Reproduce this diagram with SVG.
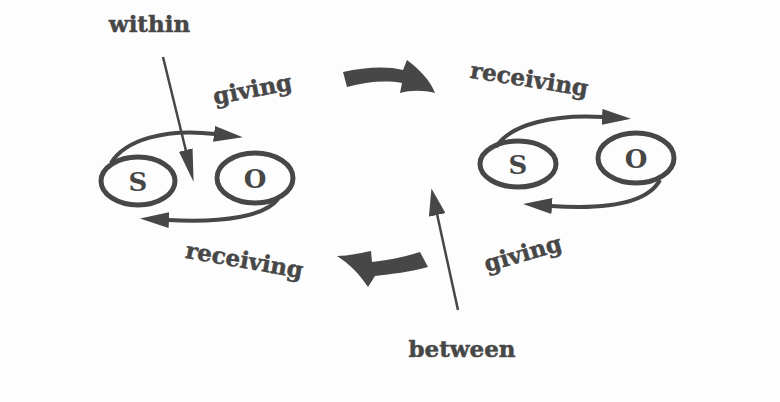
<svg xmlns="http://www.w3.org/2000/svg" width="780" height="402" viewBox="0 0 780 402">
<style>
.ell{fill:none;stroke:#474747;stroke-width:5;}
.arc{fill:none;stroke:#474747;stroke-width:4;}
.thin{fill:none;stroke:#474747;stroke-width:2.5;}
.big{fill:#474747;stroke:none;}
.lbl{font-family:"DejaVu Serif","Liberation Serif",serif;font-weight:bold;font-size:23px;fill:#474747;stroke:#474747;stroke-width:0.5;text-anchor:middle;}
.let{font-family:"DejaVu Serif","Liberation Serif",serif;font-weight:bold;font-size:26px;fill:#474747;text-anchor:middle;dominant-baseline:central;}
</style>
<defs>
<marker id="ah" markerUnits="userSpaceOnUse" viewBox="0 0 30 16" markerWidth="30" markerHeight="16" refX="1" refY="8" orient="auto"><path d="M0,0 L29,8 L0,16 Z" fill="#474747"/></marker>
<marker id="ahw" markerUnits="userSpaceOnUse" viewBox="0 0 34 14" markerWidth="34" markerHeight="14" refX="1" refY="7" orient="auto"><path d="M0,0 L33,7 L0,14 Z" fill="#474747"/></marker>
<marker id="ahb" markerUnits="userSpaceOnUse" viewBox="0 0 28 17" markerWidth="28" markerHeight="17" refX="1" refY="8.5" orient="auto"><path d="M0,0 L27,8.5 L0,17 Z" fill="#474747"/></marker>
</defs>
<rect width="780" height="402" fill="#fdfdfd"/>

<g id="left-S"><ellipse class="ell" cx="138" cy="181" rx="37" ry="24"/><text class="let" x="138" y="182">S</text></g>
<g id="left-O"><ellipse class="ell" cx="255" cy="178" rx="38" ry="25"/><text class="let" x="255" y="179">O</text></g>
<g id="right-S"><ellipse class="ell" cx="518" cy="164" rx="38" ry="23"/><text class="let" x="518" y="165">S</text></g>
<g id="right-O"><ellipse class="ell" cx="636" cy="158" rx="38" ry="25"/><text class="let" x="636" y="159">O</text></g>

<g id="labels">
<text class="lbl" x="149.5" y="32">within</text>
<text class="lbl" transform="translate(254,97) rotate(-11)">giving</text>
<text class="lbl" transform="translate(243,268) rotate(10)">receiving</text>
<text class="lbl" transform="translate(528,87) rotate(9)">receiving</text>
<text class="lbl" transform="translate(525,261) rotate(-16)">giving</text>
<text class="lbl" x="462" y="357">between</text>
</g>

<g id="connectors">
<path class="arc" d="M111,163 C125,140 165,128 215,134" marker-end="url(#ah)"/>
<path class="arc" d="M278,199 C265,216 225,223 168,220" marker-end="url(#ah)"/>
<path class="arc" d="M496,147 C510,124 555,114 603,117" marker-end="url(#ah)"/>
<path class="arc" d="M660,180 C648,202 610,210 551,206" marker-end="url(#ah)"/>
<path class="thin" d="M163,57 L186,151" marker-end="url(#ahw)"/>
<path class="thin" d="M458,310 L437,214" stroke-width="3" marker-end="url(#ahb)"/>
<path class="big" d="M343,72 C365,67 388,66 403,70 L407,60 C420,70 430,80 435,93 C424,90 410,90 400,93 L402,83 C385,80 365,82 347,87 Z"/>
<path class="big" d="M337,256 C348,256 360,253 371,251 L372,262 C390,260 405,257 420,252 L428,267 C410,272 392,274 375,276 L368,287 C360,275 350,264 337,256 Z"/>
</g>
</svg>
